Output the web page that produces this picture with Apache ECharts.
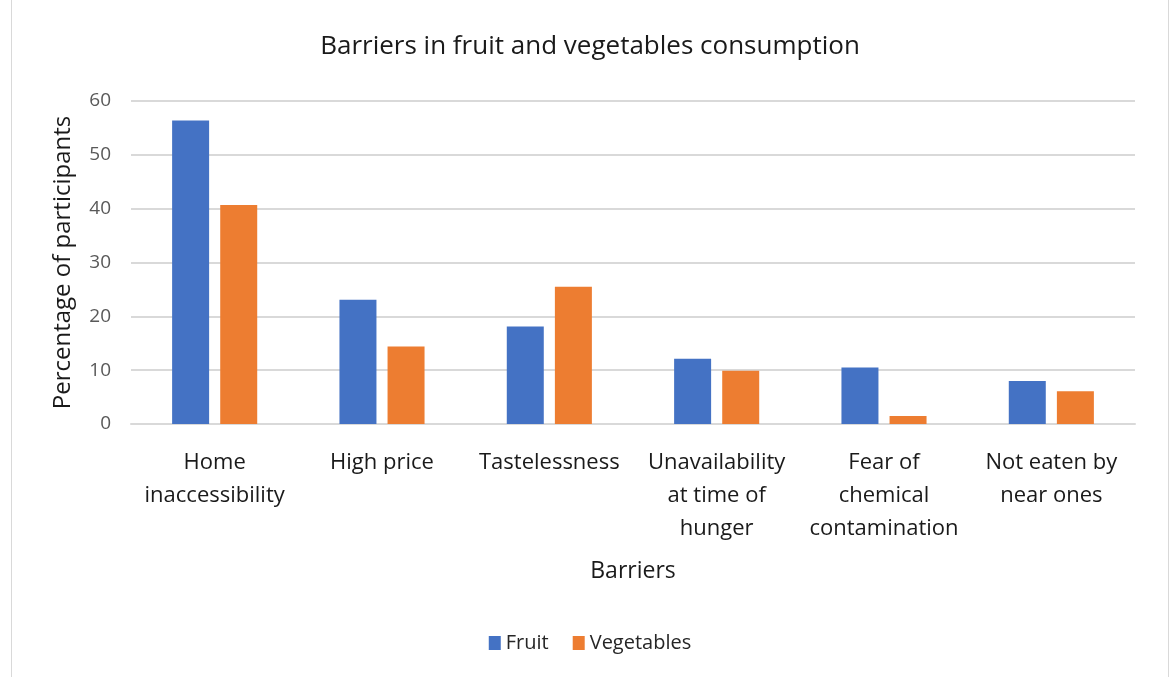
<!DOCTYPE html>
<html>
<head>
<meta charset="utf-8">
<script src="https://cdn.jsdelivr.net/npm/echarts@6/dist/echarts.min.js"></script>
<style>
    html, body { margin: 0; padding: 0; background: #fff; }
    #chart { position: absolute; left: 11px; top: -2px; width: 1158px; height: 681px; border: 1px solid #d9d9d9; box-sizing: border-box; }
</style>
</head>
<body>
<div id="chart"></div>
<script>
const categories = [
    'Home\ninaccessibility',
    'High price',
    'Tastelessness',
    'Unavailability\nat time of\nhunger',
    'Fear of\nchemical\ncontamination',
    'Not eaten by\nnear ones'
]
const fruit = [56.4, 23.1, 18.1, 12.1, 10.5, 8.0]
const vegetables = [40.7, 14.4, 25.5, 9.9, 1.5, 6.1]
const yTicks = [0, 60, 10]  // min, max, interval

const font = "'Open Sans', 'Noto Sans', sans-serif"
const chart = echarts.init(document.getElementById('chart'))

chart.setOption({
    animation: false,
    textStyle: { fontFamily: font },
    title: {
        text: 'Barriers in fruit and vegetables consumption',
        left: 'center',
        top: 30,
        textStyle: { fontFamily: font, fontSize: 26, fontWeight: 'normal', color: '#1a1a1a' }
    },
    legend: {
        bottom: 20,
        left: 'center',
        itemWidth: 12,
        itemHeight: 14,
        itemGap: 24,
        icon: 'rect',
        textStyle: { fontFamily: font, fontSize: 20, color: '#262626' },
        data: ['Fruit', 'Vegetables']
    },
    grid: { left: 119, right: 33, top: 102, bottom: 254 },
    xAxis: {
        type: 'category',
        data: categories,
        name: 'Barriers',
        nameLocation: 'middle',
        nameGap: 136,
        nameTextStyle: { fontFamily: font, fontSize: 23, color: '#1a1a1a' },
        axisLine: { lineStyle: { color: '#d9d9d9', width: 2 } },
        axisTick: { show: false },
        axisLabel: { fontFamily: font, fontSize: 22, color: '#1a1a1a', margin: 22, lineHeight: 33, interval: 0 }
    },
    yAxis: {
        type: 'value',
        min: yTicks[0],
        max: yTicks[1],
        interval: yTicks[2],
        name: 'Percentage of participants',
        nameLocation: 'middle',
        nameGap: 56,
        nameTextStyle: { fontFamily: font, fontSize: 24, color: '#1a1a1a' },
        axisLine: { show: false },
        axisTick: { show: false },
        axisLabel: { fontFamily: font, fontSize: 19, color: '#595959', margin: 20 },
        splitLine: { lineStyle: { color: '#d9d9d9', width: 2 } }
    },
    series: [
        {
            name: 'Fruit',
            type: 'bar',
            data: fruit,
            barWidth: 37,
            barGap: '30%',
            itemStyle: { color: '#4472C4' }
        },
        {
            name: 'Vegetables',
            type: 'bar',
            data: vegetables,
            barWidth: 37,
            itemStyle: { color: '#ED7D31' }
        }
    ]
})
</script>
</body>
</html>
